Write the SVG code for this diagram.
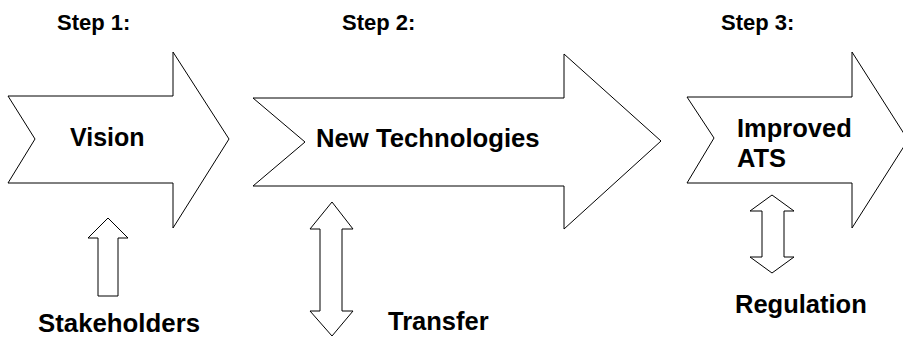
<svg xmlns="http://www.w3.org/2000/svg" width="903" height="337" viewBox="0 0 903 337">
<style>
.s{fill:#fff;stroke:#000;stroke-width:1}
.t{font-family:"Liberation Sans",Arial,sans-serif;font-weight:bold;fill:#000}
</style>
<rect width="903" height="337" fill="#fff"/>
<g id="step1">
<polygon class="s" points="8,96 173,96 173,52 229,139 173,228 173,183 8,183 35,139"/>
<text class="t" x="57" y="30" font-size="22">Step 1:</text>
<text class="t" x="70" y="146" font-size="25">Vision</text>
</g>
<g id="step2">
<polygon class="s" points="253,98 564,98 564,54 661,141 564,229 564,186 253,186 305,142"/>
<text class="t" x="342" y="30" font-size="22">Step 2:</text>
<text class="t" x="316" y="147" font-size="25.7">New Technologies</text>
</g>
<g id="step3">
<polygon class="s" points="687,97 852,97 852,52 908,140 852,228 852,183 687,183 714,138"/>
<text class="t" x="721" y="30" font-size="22">Step 3:</text>
<text class="t" x="737" y="137" font-size="25.5">Improved</text>
<text class="t" x="737" y="167" font-size="25.5">ATS</text>
</g>
<g id="connectors">
<polygon class="s" points="108,218 128,238 118,238 118,296 98,296 98,238 88,238"/>
<polygon class="s" points="332,202 353,229 342,229 342,311 353,311 332,336 310,311 320,311 320,229 310,229"/>
<polygon class="s" points="772,195 794,211 784,211 784,257 794,257 772,273 750,257 762,257 762,211 750,211"/>
</g>
<g id="stakeholders"><text class="t" x="38" y="332" font-size="25.8">Stakeholders</text></g>
<g id="transfer"><text class="t" x="388" y="330" font-size="25.5">Transfer</text></g>
<g id="regulation"><text class="t" x="735" y="313" font-size="25.5">Regulation</text></g>
</svg>
